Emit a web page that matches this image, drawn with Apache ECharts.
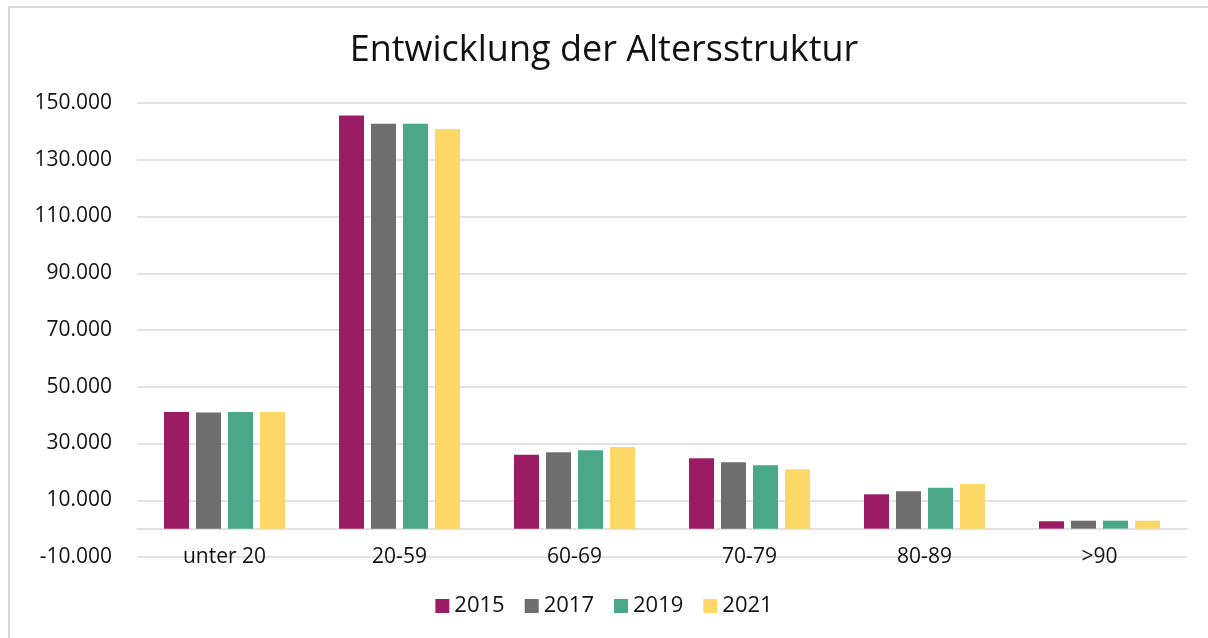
<!DOCTYPE html>
<html>
<head>
<meta charset="utf-8">
<script src="https://cdn.jsdelivr.net/npm/echarts@6/dist/echarts.min.js"></script>
<style>
  html, body { margin: 0; padding: 0; background: #fff; }
  #frame { position: absolute; left: 8px; top: 6px; width: 1200px; height: 632px;
           border-left: 2px solid #d9d9d9; border-top: 2px solid #d9d9d9; }
  #main { position: absolute; left: 0; top: 0; width: 1208px; height: 638px; }
</style>
</head>
<body>
<div id="frame"></div>
<div id="main"></div>
<script>
// Altersgruppen
var categories = ['unter 20', '20-59', '60-69', '70-79', '80-89', '>90'];
var years = ['2015', '2017', '2019', '2021'];
var colors = ['#9b1c64', '#6e6e6e', '#4aa889', '#ffd766'];

// Werte je Jahr
var v2015 = [41100, 145600, 26000, 24800, 12100, 2600];
var v2017 = [40900, 142700, 26900, 23400, 13200, 2800];
var v2019 = [41100, 142700, 27600, 22300, 14400, 2800];
var v2021 = [41100, 140800, 28800, 20900, 15700, 2800];
var values = [v2015, v2017, v2019, v2021];

var fontFam = '"Open Sans", "Noto Sans", sans-serif';

function fmt(v) {
  // 150000 -> 150.000
  var s = Math.abs(v).toString().replace(/\B(?=(\d{3})+(?!\d))/g, '.');
  return (v < 0 ? '-' : '') + s;
}

var series = [];
for (var i = 0; i < years.length; i++) {
  series.push({
    name: years[i],
    type: 'bar',
    data: values[i],
    barWidth: 25,
    barGap: '28%',
    itemStyle: { color: colors[i] }
  });
}

var chart = echarts.init(document.getElementById('main'));
chart.setOption({
  animation: false,
  title: {
    text: 'Entwicklung der Altersstruktur',
    left: 'center',
    top: 28,
    textStyle: { fontFamily: fontFam, fontSize: 36, fontWeight: 'normal', color: '#111' }
  },
  legend: {
    data: years,
    bottom: 16,
    left: 'center',
    itemWidth: 14,
    itemHeight: 14,
    itemGap: 20,
    icon: 'rect',
    textStyle: { fontFamily: fontFam, fontSize: 22, color: '#111' }
  },
  grid: { left: 137, right: 21, top: 103, bottom: 81, containLabel: false },
  xAxis: {
    type: 'category',
    data: categories,
    axisLine: { onZero: true, lineStyle: { color: '#d9d9d9', width: 1.5 } },
    axisTick: { show: false },
    axisLabel: { margin: -10, fontFamily: fontFam, fontSize: 21, color: '#111' }
  },
  yAxis: {
    type: 'value',
    min: -10000,
    max: 150000,
    interval: 20000,
    axisLine: { show: false },
    axisTick: { show: false },
    splitLine: { lineStyle: { color: '#d9d9d9', width: 1.5 } },
    axisLabel: { margin: 25, fontFamily: fontFam, fontSize: 21, color: '#111', formatter: fmt }
  },
  series: series
});
</script>
</body>
</html>
